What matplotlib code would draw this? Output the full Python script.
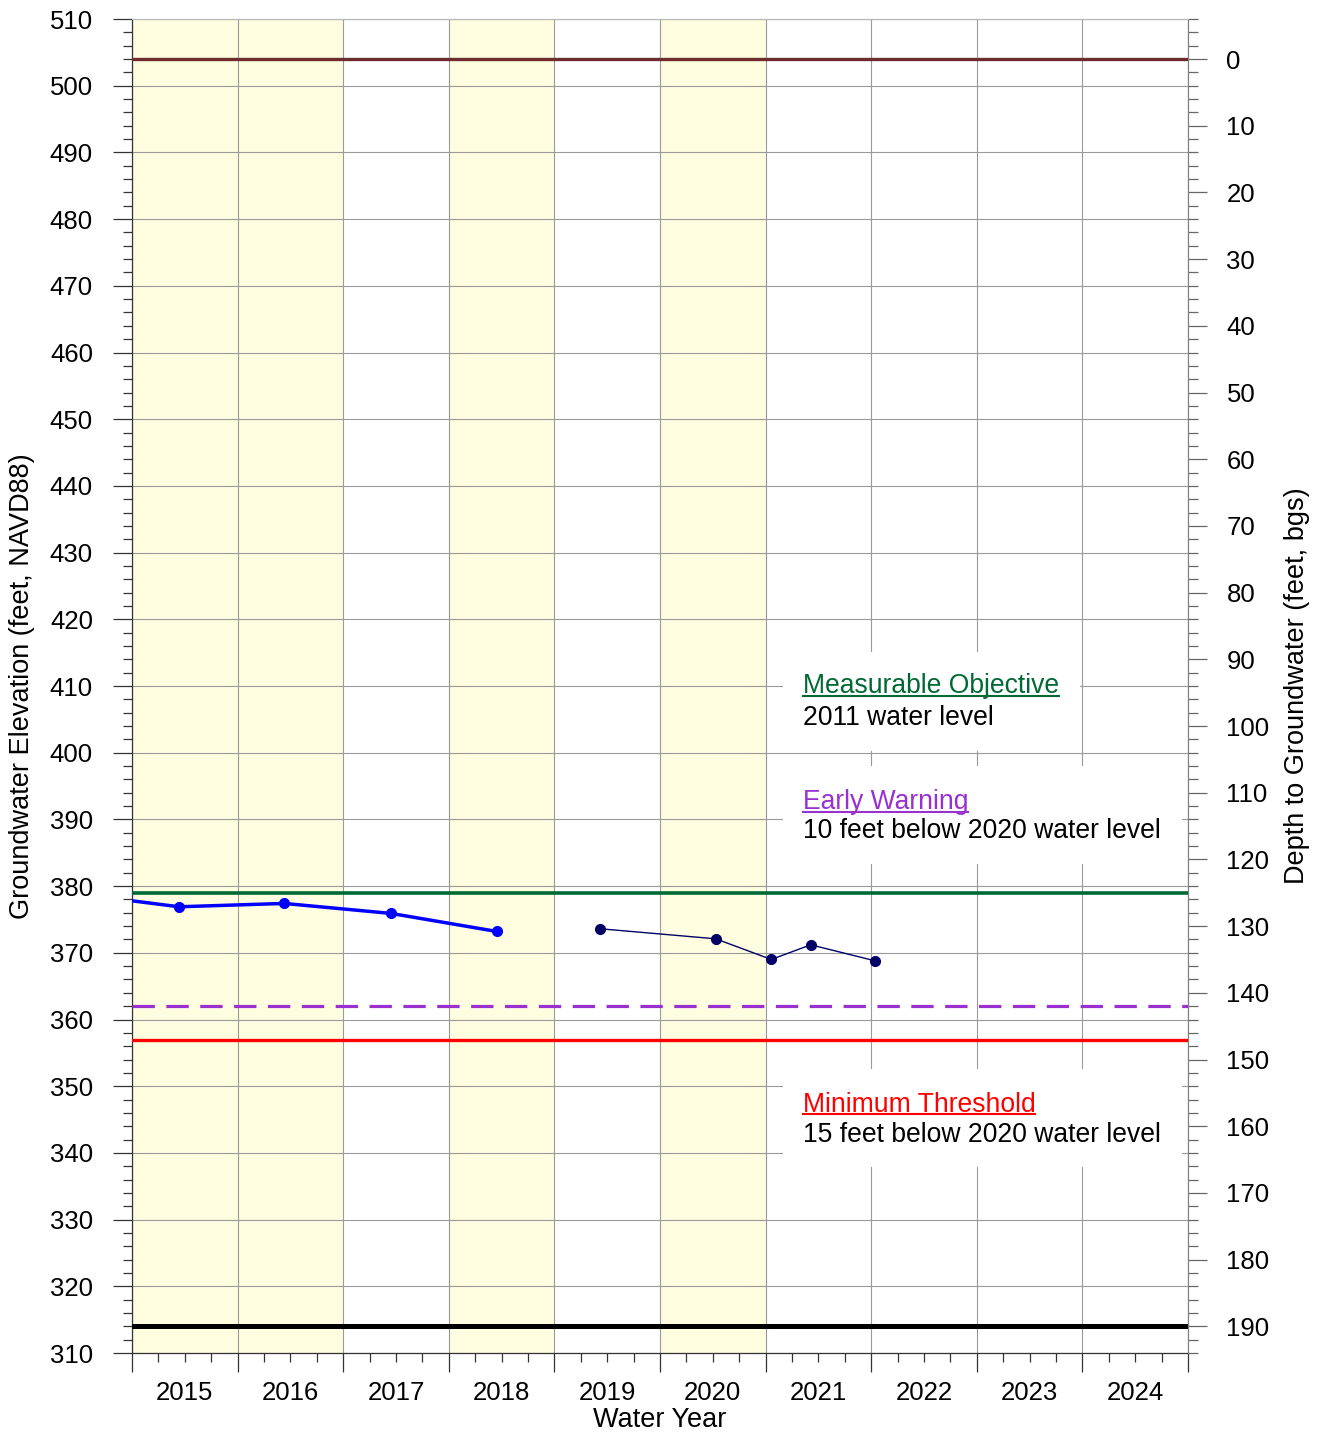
import matplotlib
matplotlib.use("Agg")
import matplotlib.pyplot as plt
from matplotlib.patches import Rectangle
from matplotlib.lines import Line2D
from matplotlib.ticker import FixedLocator, FixedFormatter, NullFormatter

plt.rcParams['font.family'] = ['Liberation Sans', 'DejaVu Sans']

# ---------------- data ----------------
water_years = [2015, 2016, 2017, 2018, 2019, 2020, 2021, 2022, 2023, 2024]
dry_year_spans = [(2015, 2017), (2018, 2019), (2020, 2021)]

ground_surface = 504.0
well_bottom = 314.0
measurable_objective = 379.0
early_warning = 362.0
minimum_threshold = 357.0

series1_x = [2014.45, 2015.445, 2016.442, 2017.455, 2018.454]
series1_y = [378.9, 376.9, 377.4, 375.9, 373.2]

series2_x = [2019.435, 2020.527, 2021.054, 2021.427, 2022.036]
series2_y = [373.6, 372.1, 369.0, 371.2, 368.8]

# ---------------- figure ----------------
W, H = 1321, 1435
fig = plt.figure(figsize=(W / 100, H / 100), dpi=100)
ax = fig.add_axes([132 / W, 1 - 1353 / H, (1188 - 132) / W, (1353 - 19) / H])

xmin, xmax = 2015, 2025
ymin, ymax = 310, 510
ax.set_xlim(xmin, xmax)
ax.set_ylim(ymin, ymax)
ax.set_axisbelow(True)

for a, b in dry_year_spans:
    ax.axvspan(a, b, color='#FFFDE0', zorder=0, lw=0)

# white annotation boxes (cover the grid)
boxes = [(2021.165, 400.25, 2023.977, 415.1),
         (2021.165, 383.3, 2024.943, 398.0),
         (2021.165, 337.9, 2024.943, 352.6)]
for x0, y0, x1, y1 in boxes:
    ax.add_patch(Rectangle((x0, y0), x1 - x0, y1 - y0, facecolor='white',
                           edgecolor='none', zorder=0.8))

# grid
ax.grid(True, which='major', color='#9a9a9a', lw=0.8)

# reference lines
ax.axhline(ground_surface, color='#6E2C2C', lw=2.4, zorder=3)
ax.axhline(well_bottom, color='black', lw=3.6, zorder=3)
ax.axhline(measurable_objective, color='#006A35', lw=2.6, zorder=3)
ax.axhline(early_warning, color='#9B30D0', lw=2.3, ls=(0, (7, 3.6)), zorder=3)
ax.axhline(minimum_threshold, color='#FF0000', lw=2.4, zorder=3)

# data series
ax.plot(series1_x, series1_y, color='#0000FF', lw=2.5, marker='o', ms=7,
        zorder=4, clip_on=True)
ax.plot(series2_x, series2_y, color='#000066', lw=1.0, marker='o', ms=7,
        zorder=4)

# ---------------- ticks ----------------
tick_fs = 18.5
ax.yaxis.set_major_locator(FixedLocator(list(range(310, 511, 10))))
ax.yaxis.set_minor_locator(FixedLocator([v for v in range(310, 511, 2) if v % 10]))
ax.tick_params(axis='y', which='major', direction='out', length=13.7, width=0.9,
               pad=14.4, labelsize=tick_fs, color='#333333')
ax.tick_params(axis='y', which='minor', direction='out', length=6.5, width=0.9,
               color='#333333')

xmajor = list(range(2015, 2026))
xminor = [y + q for y in range(2015, 2025) for q in (0.25, 0.5, 0.75)]
xminor_labels = [str(int(v)) if abs(v - int(v) - 0.5) < 1e-6 else '' for v in xminor]
ax.xaxis.set_major_locator(FixedLocator(xmajor))
ax.xaxis.set_major_formatter(NullFormatter())
ax.xaxis.set_minor_locator(FixedLocator(xminor))
ax.xaxis.set_minor_formatter(FixedFormatter(xminor_labels))
ax.tick_params(axis='x', which='major', direction='out', length=13.7, width=0.9,
               color='#333333')
ax.tick_params(axis='x', which='minor', direction='out', length=6.5, width=0.9,
               pad=13.8, labelsize=tick_fs, color='#333333')

for side in ('left', 'bottom'):
    ax.spines[side].set_color('#333333')
    ax.spines[side].set_linewidth(0.9)
ax.spines['top'].set_color('#b8b8b8')
ax.spines['right'].set_color('#808080')

# right axis: depth to groundwater
ax2 = ax.twinx()
ax2.set_ylim(ground_surface - ymin, ground_surface - ymax)
ax2.yaxis.set_major_locator(FixedLocator(list(range(0, 191, 10))))
ax2.yaxis.set_minor_locator(FixedLocator([v for v in range(-6, 195, 2) if v % 10]))
ax2.tick_params(axis='y', which='major', direction='out', length=14, width=0.9,
                pad=13.7, labelsize=tick_fs, color='#666666')
ax2.tick_params(axis='y', which='minor', direction='out', length=7, width=0.9,
                color='#666666')
ax2.spines['right'].set_color('#808080')
ax2.spines['top'].set_color('#b8b8b8')
ax2.spines['left'].set_visible(False)
ax2.spines['bottom'].set_visible(False)

# axis labels
label_fs = 19.5
fig.text(22 / W, 1 - 686 / H, 'Groundwater Elevation (feet, NAVD88)', rotation=90,
         ha='center', va='center', fontsize=label_fs)
fig.text(1297 / W, 1 - 686 / H, 'Depth to Groundwater (feet, bgs)', rotation=90,
         ha='center', va='center', fontsize=label_fs)
fig.text(660 / W, 1 - 1420 / H, 'Water Year', ha='center', va='center',
         fontsize=label_fs)

# annotations
ann_fs = 19.1
text_x = 2021.351
ann = [
    ('Measurable Objective', 408.95, '#006A35', True),
    ('2011 water level', 404.15, 'black', False),
    ('Early Warning', 391.5, '#9B30D0', True),
    ('10 feet below 2020 water level', 387.2, 'black', False),
    ('Minimum Threshold', 346.2, '#FF0000', True),
    ('15 feet below 2020 water level', 341.7, 'black', False),
]
texts = []
for s, y, c, ul in ann:
    t = ax.text(text_x, y, s, color=c, fontsize=ann_fs, ha='left', va='baseline',
                zorder=5)
    texts.append((t, c, ul))

fig.canvas.draw()
renderer = fig.canvas.get_renderer()
for t, c, ul in texts:
    if not ul:
        continue
    bb = t.get_window_extent(renderer)
    xb, yb = ax.transData.transform((t.get_position()[0], t.get_position()[1]))
    yline = yb - 2.5
    inv = fig.transFigure.inverted()
    (fx0, fy), (fx1, _) = inv.transform([(bb.x0, yline), (bb.x1, yline)])
    fig.add_artist(Line2D([fx0, fx1], [fy, fy], color=c, lw=1.5, zorder=6))

fig.savefig('out.png', dpi=100)
